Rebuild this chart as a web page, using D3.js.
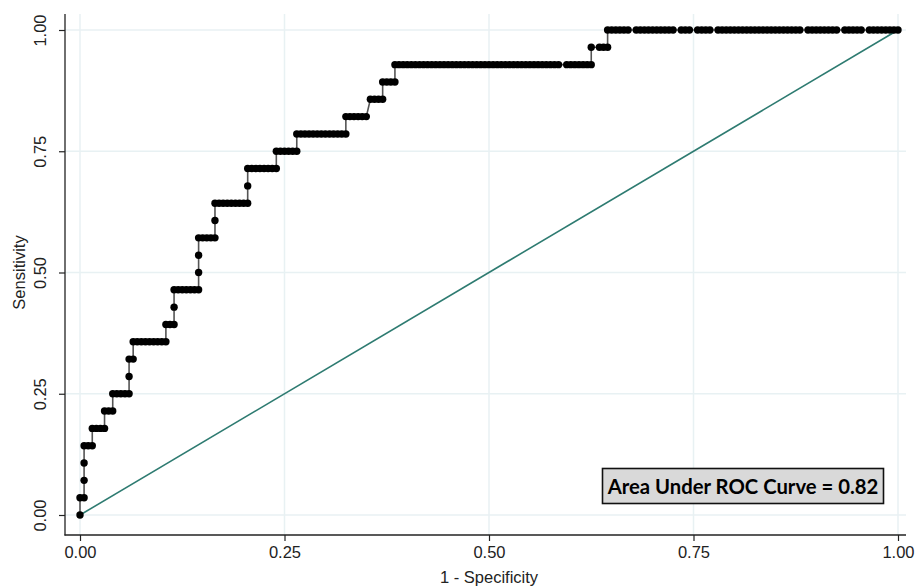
<!DOCTYPE html>
<html>
<head>
<meta charset="utf-8">
<script src="https://cdn.jsdelivr.net/npm/d3@7"></script>
<style>
  body { margin: 0; background: #fff; }
  svg { display: block; }
</style>
</head>
<body>
<svg id="roc"></svg>
<script>
// ROC data: 28 positives, 200 negatives.
// For each sensitivity count (0..28) the runs of false-positive counts plotted at that level.
const nPos = 28;
const nNeg = 200;
const fpRuns = [
    [[0, 0]],
    [[0, 1]],
    [[1, 1]],
    [[1, 1]],
    [[1, 3]],
    [[3, 6]],
    [[6, 8]],
    [[8, 12]],
    [[12, 12]],
    [[12, 13]],
    [[13, 21]],
    [[21, 23]],
    [[23, 23]],
    [[23, 29]],
    [[29, 29]],
    [[29, 29]],
    [[29, 33]],
    [[33, 33]],
    [[33, 41]],
    [[41, 41]],
    [[41, 48]],
    [[48, 53]],
    [[53, 65]],
    [[65, 70]],
    [[71, 74]],
    [[74, 77]],
    [[77, 117], [119, 125]],
    [[125, 125], [127, 129]],
    [[129, 134], [136, 145], [147, 149], [151, 154], [156, 176], [178, 185], [187, 191], [193, 200]]
];
const tickValues = [0, 0.25, 0.5, 0.75, 1];
const xTitle = '1 - Specificity';
const yTitle = 'Sensitivity';
const aucLabel = 'Area Under ROC Curve = 0.82';

(function() {

    const w = 915;
    const h = 586;

    // build the point list in cutoff order
    const points = [];
    fpRuns.forEach((runs, k) => {
        runs.forEach(([a, b]) => {
            for (let i = a; i <= b; i++) points.push({ fpr: i / nNeg, sens: k / nPos });
        });
    });

    const x = d3.scaleLinear().domain([0, 1]).range([80, 898]);
    const y = d3.scaleLinear().domain([0, 1]).range([515, 30]);

    const axisX = 65;   // left axis line
    const axisY = 535;  // bottom axis line
    const top = 14;
    const right = 906;
    const labelSize = 16.5;

    const svg = d3.select('#roc')
        .attr('width', w)
        .attr('height', h)
        .style('font-family', '"Liberation Sans", Arial, sans-serif');

    // grid
    const grid = svg.append('g').attr('stroke', '#e8f1f3').attr('stroke-width', 1.5);
    grid.selectAll('.vgrid')
        .data(tickValues)
        .enter()
        .append('line')
        .attr('x1', d => x(d)).attr('x2', d => x(d))
        .attr('y1', top).attr('y2', axisY);
    grid.selectAll('.hgrid')
        .data(tickValues)
        .enter()
        .append('line')
        .attr('x1', axisX).attr('x2', right)
        .attr('y1', d => y(d)).attr('y2', d => y(d));

    // axes
    const fmt = d3.format('.2f');

    const gx = svg.append('g')
        .attr('transform', `translate(0, ${axisY})`)
        .call(d3.axisBottom(x).tickValues(tickValues).tickFormat(fmt).tickSize(6).tickPadding(5));
    gx.select('.domain').remove();
    gx.selectAll('.tick line').attr('stroke', '#222').attr('stroke-width', 1.2);
    gx.selectAll('.tick text').attr('font-size', labelSize).attr('fill', '#222')
        .attr('font-family', '"Liberation Sans", Arial, sans-serif');

    const gy = svg.append('g')
        .attr('transform', `translate(${axisX}, 0)`)
        .call(d3.axisLeft(y).tickValues(tickValues).tickFormat(fmt).tickSize(6).tickPadding(6));
    gy.select('.domain').remove();
    gy.selectAll('.tick line').attr('stroke', '#222').attr('stroke-width', 1.2);
    gy.selectAll('.tick text')
        .attr('font-size', labelSize).attr('fill', '#222')
        .attr('font-family', '"Liberation Sans", Arial, sans-serif')
        .attr('x', null).attr('dy', null)
        .attr('text-anchor', 'middle')
        .attr('transform', 'translate(-19, 0) rotate(-90)');

    svg.append('line')
        .attr('x1', axisX).attr('x2', axisX)
        .attr('y1', top).attr('y2', axisY + 0.5)
        .attr('stroke', '#222').attr('stroke-width', 1.3);
    svg.append('line')
        .attr('x1', axisX - 0.5).attr('x2', right)
        .attr('y1', axisY).attr('y2', axisY)
        .attr('stroke', '#222').attr('stroke-width', 1.3);

    // axis titles
    svg.append('text')
        .attr('x', (x(0) + x(1)) / 2)
        .attr('y', 583)
        .attr('text-anchor', 'middle')
        .attr('font-size', 16.5)
        .attr('fill', '#222')
        .text(xTitle);
    svg.append('text')
        .attr('transform', `translate(25, ${(y(0) + y(1)) / 2}) rotate(-90)`)
        .attr('text-anchor', 'middle')
        .attr('font-size', 16.5)
        .attr('fill', '#222')
        .text(yTitle);

    // reference diagonal
    svg.append('line')
        .attr('x1', x(0)).attr('y1', y(0))
        .attr('x2', x(1)).attr('y2', y(1))
        .attr('stroke', '#2e7b71')
        .attr('stroke-width', 1.6);

    // connected ROC points
    const line = d3.line()
        .x(d => x(d.fpr))
        .y(d => y(d.sens));

    svg.append('path')
        .datum(points)
        .attr('fill', 'none')
        .attr('stroke', '#555')
        .attr('stroke-width', 1.6)
        .attr('d', line);

    svg.selectAll('.pt')
        .data(points)
        .enter()
        .append('circle')
        .attr('class', 'pt')
        .attr('cx', d => x(d.fpr))
        .attr('cy', d => y(d.sens))
        .attr('r', 3.7)
        .attr('fill', '#000');

    // AUC box
    svg.append('rect')
        .attr('x', 602.5).attr('y', 468.5)
        .attr('width', 281).attr('height', 35)
        .attr('fill', '#d9d9d9')
        .attr('stroke', '#111')
        .attr('stroke-width', 1.6);
    svg.append('text')
        .attr('x', 743)
        .attr('y', 493.5)
        .attr('text-anchor', 'middle')
        .attr('font-family', 'Lato, "Open Sans", sans-serif')
        .attr('font-weight', 'bold')
        .attr('font-size', 20.3)
        .attr('fill', '#000')
        .text(aucLabel);

})();
</script>
</body>
</html>
